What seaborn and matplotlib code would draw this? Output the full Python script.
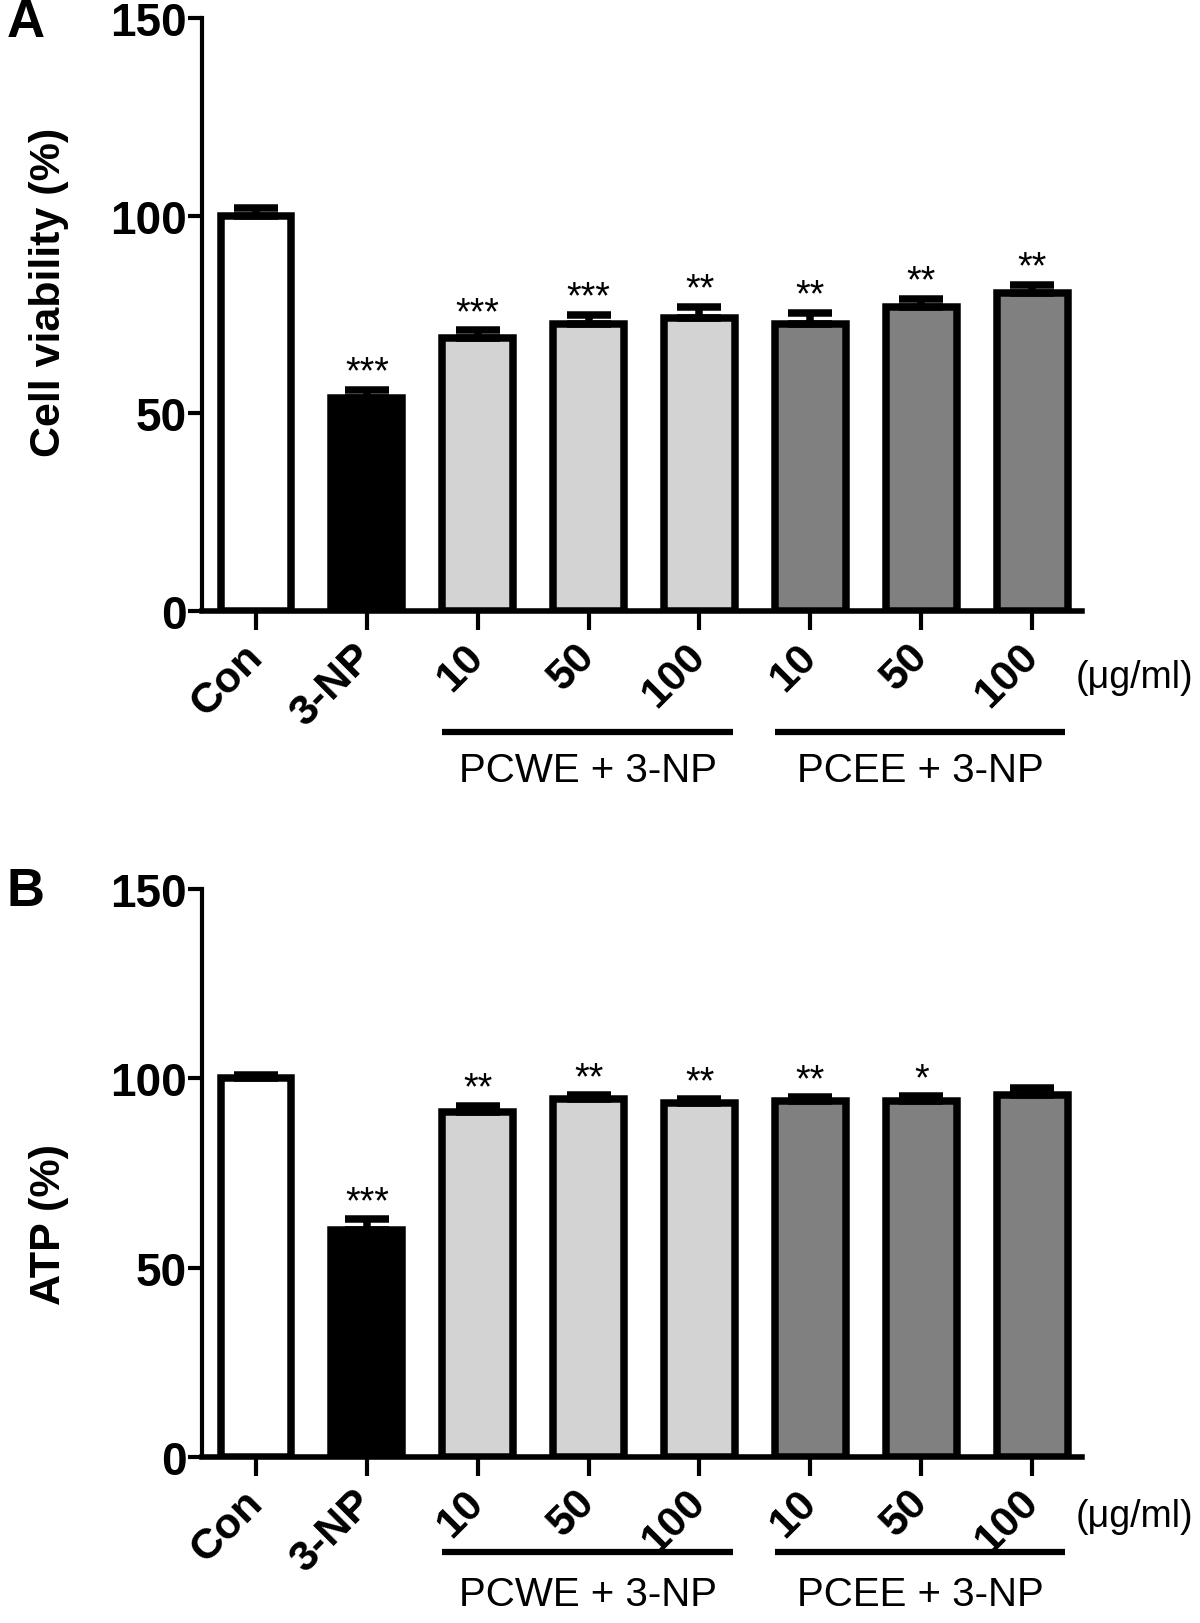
import numpy as np
import pandas as pd
import matplotlib
matplotlib.use('Agg')
import matplotlib.pyplot as plt
import matplotlib.transforms as mtransforms
import seaborn as sns

sns.set_style('ticks')
plt.rcParams['font.family'] = ['Liberation Sans', 'DejaVu Sans']
plt.rcParams.update({'text.color': 'black', 'axes.edgecolor': 'black',
                     'axes.labelcolor': 'black', 'xtick.color': 'black',
                     'ytick.color': 'black'})

# data
groups = ['Con', '3-NP', 'PCWE 10', 'PCWE 50', 'PCWE 100', 'PCEE 10', 'PCEE 50', 'PCEE 100']
tick_labels = ['Con', '3-NP', '10', '50', '100', '10', '50', '100']
bar_colors = ['white', 'black', '#d3d3d3', '#d3d3d3', '#d3d3d3', '#808080', '#808080', '#808080']

viability = [100, 54, 69, 72.5, 74, 72.5, 77, 80.5]
viability_sem = [2, 2, 2, 2.5, 3, 3, 2, 2]
viability_sig = ['', '***', '***', '***', '**', '**', '**', '**']

atp = [100, 60, 91, 94.5, 93.5, 94, 94, 95.5]
atp_sem = [0.8, 2.8, 1.8, 1, 1, 1, 1.3, 2]
atp_sig = ['', '***', '**', '**', '**', '**', '*', '']

group_names = ['PCWE + 3-NP', 'PCEE + 3-NP']
group_members = [[2, 3, 4], [5, 6, 7]]

fig = plt.figure(figsize=(12, 16.24), dpi=100)
axA = fig.add_axes([202/1200, 1-612/1624, 880/1200, 593/1624])
axB = fig.add_axes([202/1200, 1-1458/1624, 880/1200, 568/1624])


def draw_panel(ax, values, sems, sigs, letter, ylabel, letter_y, ylabel_y,
               unit_y, line_y, text_y):
    df = pd.DataFrame({'group': groups, 'value': values})
    sns.barplot(data=df, x='group', y='value', hue='group', order=groups,
                hue_order=groups, palette=dict(zip(groups, bar_colors)),
                legend=False, width=0.64, edgecolor='black', linewidth=5.4,
                ax=ax)
    ax.errorbar(np.arange(len(groups)), values,
                yerr=[np.zeros(len(values)), sems], fmt='none',
                ecolor='black', elinewidth=5.4, capsize=16, capthick=5.4,
                zorder=3)
    for i, (v, e, s) in enumerate(zip(values, sems, sigs)):
        if s:
            ax.text(i, v + e + 1.8, s, ha='center', va='baseline',
                    fontsize=27)

    ax.set_xlabel('')
    ax.set_ylabel('')
    sns.despine(ax=ax)
    ax.spines['left'].set_linewidth(3)
    ax.spines['bottom'].set_linewidth(4)
    ax.set_yticks([0, 50, 100, 150])
    ax.set_xticks(range(len(groups)))
    ax.set_xticklabels(tick_labels, rotation=45, ha='right', va='center',
                       rotation_mode='anchor', fontsize=31, fontweight='bold')
    for lab in ax.get_yticklabels():
        lab.set_fontweight('bold')
    ax.tick_params(axis='y', direction='out', length=10, width=3,
                   labelsize=33, pad=1)
    ax.tick_params(axis='x', direction='out', length=14, width=3, pad=14)

    trans = mtransforms.blended_transform_factory(ax.transData, fig.transFigure)
    for name, members in zip(group_names, group_members):
        x0, x1 = members[0] - 0.32, members[-1] + 0.3
        ax.plot([x0, x1], [line_y, line_y], color='black', lw=4.5,
                transform=trans, clip_on=False, solid_capstyle='butt')
        ax.text((x0 + x1) / 2, text_y, name, transform=trans, ha='center',
                va='center', fontsize=29)

    ax.set_xlim(-0.487, 7.45)
    ax.set_ylim(0, 150)

    fig.text(0.945, unit_y, '(μg/ml)', ha='center', va='center', fontsize=27)
    fig.text(26/1200, letter_y, letter, ha='center', va='center',
             fontsize=38, fontweight='bold')
    fig.text(49/1200, ylabel_y, ylabel, rotation=90, ha='center',
             va='center', fontsize=31, fontweight='bold')


draw_panel(axA, viability, viability_sem, viability_sig, 'A',
           'Cell viability (%)', 1-23/1624, 1-292/1624,
           1-678/1624, 1-733/1624, 1-771/1624)
draw_panel(axB, atp, atp_sem, atp_sig, 'B', 'ATP (%)',
           1-892/1624, 1-1225/1624,
           1-1517/1624, 1-1553/1624, 1-1595/1624)

fig.savefig('out.png', dpi=100)
